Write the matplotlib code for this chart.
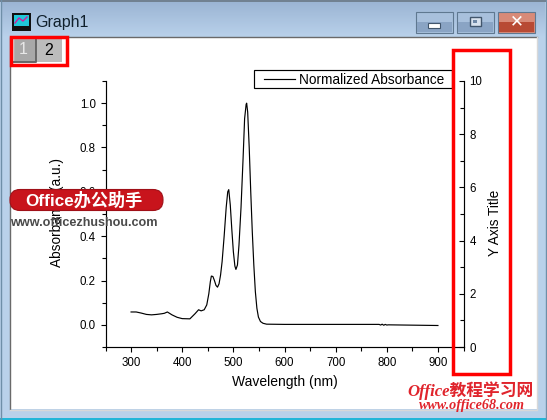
import numpy as np
import matplotlib
matplotlib.use('Agg')
import matplotlib.pyplot as plt
from matplotlib.patches import Rectangle, FancyBboxPatch
from matplotlib.ticker import MultipleLocator

plt.rcParams['font.family'] = ['Liberation Sans', 'Noto Sans CJK SC', 'DejaVu Sans']

wavelength = [300, 310, 320, 330, 340, 350, 360, 365, 371, 380, 390, 400, 415, 425, 432, 437, 443, 448,
              452, 455, 457, 460, 463, 466, 469, 472, 475, 478, 482, 486, 489, 491, 494, 497, 500, 503,
              505, 508, 511, 515, 519, 522, 525, 526, 528, 531, 534, 537, 540, 543, 546, 549, 553, 558,
              565, 600, 700, 785, 788, 791, 794, 797, 800, 803, 900]
absorbance = [.058, .058, .053, .047, .045, .047, .050, .052, .058, .045, .034, .028, .027, .050, .068, .063, .068, .090,
              .140, .195, .220, .218, .200, .178, .170, .185, .225, .285, .400, .530, .600, .610, .540, .430, .330, .265,
              .250, .270, .360, .530, .750, .930, .995, 1.0, .960, .800, .600, .420, .270, .150, .075, .035, .015, .007,
              .003, .002, .002, .002, -.001, .003, -.002, .002, -.001, .000, -.003]
x_major = [300, 400, 500, 600, 700, 800, 900]
series_name = 'Normalized Absorbance'

W, H = 547, 420
fig = plt.figure(figsize=(W / 100, H / 100), dpi=100)

def pixel_axes(z):
    a = fig.add_axes([0, 0, 1, 1], zorder=z)
    a.set_xlim(0, W); a.set_ylim(H, 0); a.axis('off'); a.patch.set_alpha(0)
    return a

bg = pixel_axes(-1)
bg.add_patch(Rectangle((0, 0), W, H, fc='#b9d1ea', ec='none'))
grad = np.linspace(0, 1, 40)[:, None, None] * (np.array([.725, .82, .92]) - np.array([.61, .71, .83])) + np.array([.61, .71, .83])
bg.imshow(grad, extent=(2, W - 2, 37, 2), aspect='auto', zorder=1)
bg.set_xlim(0, W); bg.set_ylim(H, 0)
bg.plot([0, W], [1, 1], color='#6f7f8f', lw=1.4, zorder=2)
bg.plot([0, W], [418.5, 418.5], color='#1fb6d8', lw=1.4, zorder=2)
bg.plot([1, 1], [0, 419], color='#6f8fa8', lw=1, zorder=2)
bg.plot([546, 546], [0, 419], color='#6f8fa8', lw=1, zorder=2)
bg.add_patch(Rectangle((10, 37), 527, 372, fc='white', ec='none', zorder=2))
bg.plot([10, 10, 537], [409, 37, 37], color='#6a6a6a', lw=1.0, zorder=3)
bg.plot([10, 537, 537], [409.5, 409.5, 37], color='#d8d8d8', lw=1.0, zorder=3)
bg.text(35, 22.5, 'Graph1', fontsize=11.5, va='center', ha='left', color='#10202c', zorder=4)
# icon
bg.add_patch(Rectangle((11.5, 13), 19, 18, fc='#101010', ec='none', zorder=4))
bg.add_patch(Rectangle((13.5, 15), 15, 11, fc='#20c8d8', ec='none', zorder=5))
bg.plot([15, 19, 23, 27], [23, 18, 21, 17], color='#d020a0', lw=1, zorder=6)
# window buttons
for x0, x1, col, col2 in [(416, 453, '#a8c0dc', '#8aa4c4'), (457, 494, '#a8c0dc', '#8aa4c4'), (498, 535, '#d88a78', '#b84a34')]:
    bg.add_patch(Rectangle((x0, 11.5), x1 - x0, 21, fc=col, ec='#5f7890', lw=.8, zorder=4))
    bg.add_patch(Rectangle((x0 + 1, 21.5), x1 - x0 - 2, 10.5, fc=col2, ec='none', zorder=5))
bg.add_patch(Rectangle((428, 22.5), 12, 5, fc='white', ec='#42566c', lw=.8, zorder=6))
bg.add_patch(Rectangle((469.5, 17), 11, 9, fc='#d8e2ee', ec='#42566c', lw=1, zorder=6))
bg.add_patch(Rectangle((473, 20), 4, 3, fc='#6f88a6', ec='none', zorder=7))
bg.text(516.5, 21.5, '✕', fontsize=12, fontweight='bold', family=['DejaVu Sans'], color='white', ha='center', va='center', zorder=6)
# layer buttons
bg.add_patch(Rectangle((13, 38), 23, 24, fc='#a8a8a8', ec='none', zorder=4))
bg.plot([13, 13, 36], [62, 38, 38], color='#e4e4e4', lw=1, zorder=5)
bg.plot([13, 36, 36], [62, 62, 38], color='#666666', lw=1.4, zorder=5)
bg.add_patch(Rectangle((36.5, 38), 25, 24, fc='#bcbcbc', ec='none', zorder=4))
bg.text(23.5, 50, '1', fontsize=11.5, color='#e8e8e8', ha='center', va='center', zorder=6)
bg.text(49, 50.5, '2', fontsize=11.5, color='black', ha='center', va='center', zorder=6)
# legend frame
bg.add_patch(Rectangle((253.5, 69.5), 198, 18, fc='white', ec='black', lw=0.85, zorder=4))

# plot axes: x 105.5..463.5, y 81..347 px
ax = fig.add_axes([105.5 / W, 1 - 347 / H, 358 / W, 266 / H], zorder=1)
ax.patch.set_alpha(0)
line, = ax.plot(wavelength, absorbance, color='black', lw=0.85, label=series_name)
ax.set_xlim(250, 950)
ax.set_ylim(-0.1, 1.1)
ax.set_xticks(x_major)
ax.xaxis.set_minor_locator(MultipleLocator(50))
ax.yaxis.set_minor_locator(MultipleLocator(0.1))
ax.set_yticks(np.arange(0, 1.01, 0.2))
ax.set_xlabel('Wavelength (nm)', fontsize=10, labelpad=4.5)
ax.set_ylabel('Absorbance (a.u.)', fontsize=9.8)
ax.yaxis.set_label_coords(-0.116, 0.507)
ax.spines['top'].set_visible(False)
ax.spines['right'].set_visible(False)
for s in ('left', 'bottom'):
    ax.spines[s].set_linewidth(0.85)
ax.tick_params(which='major', length=3.5, width=0.8, labelsize=8.3, pad=3.5)
ax.tick_params(which='minor', length=2.8, width=0.8)

ax2 = ax.twinx()
ax2.set_ylim(0, 10)
ax2.yaxis.set_major_locator(MultipleLocator(2))
ax2.yaxis.set_minor_locator(MultipleLocator(1))
ax2.set_ylabel('Y Axis Title', fontsize=9.8)
ax2.yaxis.set_label_coords(1.068, 0.467)
for s in ('left', 'top', 'bottom'):
    ax2.spines[s].set_visible(False)
ax2.spines['right'].set_linewidth(0.85)
ax2.tick_params(which='major', direction='in', length=3.5, width=0.8, labelsize=8.3, pad=4.3)
ax2.tick_params(which='minor', direction='in', length=2.8, width=0.8)

leg = ax.legend(handles=[line], loc='center left', bbox_to_anchor=(264 / W, 1 - 80 / H),
                bbox_transform=fig.transFigure, frameon=False,
                fontsize=9.8, borderaxespad=0, handlelength=2.28, handletextpad=0.3, borderpad=0)

top = pixel_axes(5)
top.add_patch(Rectangle((11, 37), 56, 28, fc='none', ec='#ff0000', lw=2.5))
top.add_patch(Rectangle((453.3, 50), 56.2, 324, fc='none', ec='#ff0000', lw=2.5))
top.add_patch(FancyBboxPatch((10, 189.5), 153, 21, boxstyle='round,pad=0,rounding_size=10', mutation_aspect=1,
                             fc='#c8141c', ec='#a01018', lw=0.8))
top.text(84, 200, 'Office办公助手', fontsize=12.3, fontweight='bold', color='white', ha='center', va='center')
top.text(83.5, 222.5, 'www.officezhushou.com', fontsize=9.1, fontweight='bold', color='#4a4a4a', ha='center', va='center')
top.text(470.5, 391, 'Office教程学习网', fontsize=12.1, style='italic', fontweight='bold', color='#e0242c', ha='center', va='center', family=['Liberation Serif', 'Noto Sans CJK SC'])
top.text(471.5, 405.5, 'www.office68.com', fontsize=10.2, style='italic', fontweight='bold', color='#e0242c', ha='center', va='center', family=['Liberation Serif'])

fig.savefig('out.png', dpi=100)
